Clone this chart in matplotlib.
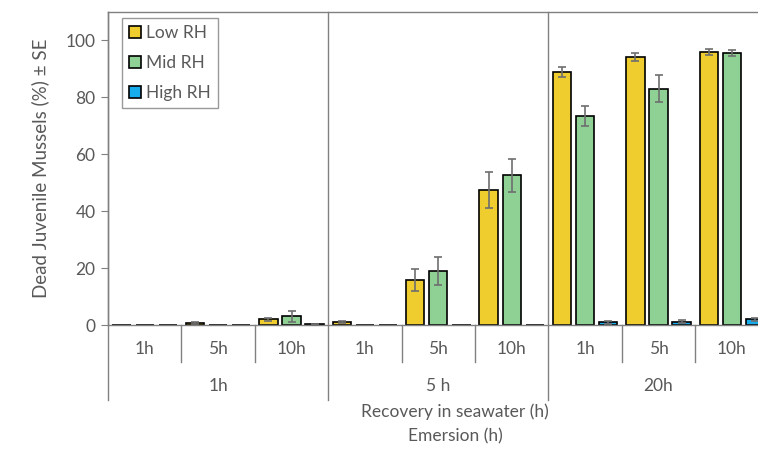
import numpy as np
import matplotlib.pyplot as plt

## data
emersion = ['1h', '5 h', '20h']
recovery = ['1h', '5h', '10h']
series = ['Low RH', 'Mid RH', 'High RH']

low = [0, 0.8, 2.0, 1.0, 15.8, 47.5, 88.8, 94.1, 96.0]
mid = [0, 0, 3.0, 0, 18.9, 52.6, 73.6, 83.0, 95.5]
high = [0, 0, 0.3, 0, 0, 0, 0.95, 1.2, 2.0]
low_se = [0, 0.3, 0.5, 0.4, 4.0, 6.4, 1.7, 1.4, 1.0]
mid_se = [0, 0, 2.0, 0, 5.0, 5.9, 3.5, 4.7, 1.0]
high_se = [0, 0, 0.2, 0, 0, 0, 0.6, 0.6, 0.6]

colors = ['#F0CD2E', '#8FD094', '#17ACEB']
grey = '#595959'
linec = '#808080'

plt.rcParams['font.family'] = ['Lato', 'DejaVu Sans']

fig = plt.figure(figsize=(7.58, 4.49), dpi=100)
ax = fig.add_axes([108/758, 1-325/449, 660.6/758, 313/449])

x = np.arange(len(low))
w = 0.25
off = 0.315
for k, (vals, errs) in enumerate([(low, low_se), (mid, mid_se), (high, high_se)]):
    xs = x + (k-1)*off
    ax.bar(xs, vals, w, color=colors[k], edgecolor='black', linewidth=1.2,
           label=series[k], zorder=2)
    e = np.array(errs)
    m = e > 0
    ax.errorbar(xs[m], np.array(vals)[m], yerr=e[m], fmt='none', ecolor='#6e6e6e',
                elinewidth=1.2, capsize=3, capthick=1.2, zorder=3)

ax.set_xlim(-0.5, 8.5)
ax.set_ylim(0, 110)
ax.set_yticks([0, 20, 40, 60, 80, 100])
ax.set_xticks([])
ax.tick_params(axis='y', direction='out', length=5, color=linec, labelcolor=grey,
               labelsize=12.5, pad=4)
for s in ['left', 'bottom', 'top']:
    ax.spines[s].set_color(linec)
    ax.spines[s].set_linewidth(1)
ax.spines['right'].set_visible(False)
ax.set_ylabel('Dead Juvenile Mussels (%) ± SE', fontsize=13.5, color=grey, labelpad=12)

# category lines below the axis
tr = ax.get_xaxis_transform()
for b in np.arange(-0.5, 9, 1):
    if b in (-0.5, 2.5, 5.5, 8.5):
        ax.plot([b, b], [-0.24, 1], transform=tr, color=linec, lw=1, clip_on=False)
    else:
        ax.plot([b, b], [-0.118, 0], transform=tr, color=linec, lw=1, clip_on=False)

for i in range(9):
    ax.text(i, -0.077, recovery[i % 3], transform=tr, ha='center', va='center',
            fontsize=12.5, color=grey)
for g in range(3):
    ax.text(g*3+1, -0.195, emersion[g], transform=tr, ha='center', va='center',
            fontsize=12.5, color=grey)
ax.text(4.23, -0.278, 'Recovery in seawater (h)', transform=tr, ha='center',
        va='center', fontsize=12.5, color=grey)
ax.text(4.23, -0.355, 'Emersion (h)', transform=tr, ha='center', va='center',
        fontsize=12.5, color=grey)

leg = ax.legend(loc='upper left', bbox_to_anchor=(0.021, 0.981), borderaxespad=0,
                fontsize=12.5, fancybox=False, edgecolor=linec, handlelength=0.7,
                handleheight=0.7, handletextpad=0.3, labelspacing=0.8, borderpad=0.4,
                labelcolor=grey)
leg.get_frame().set_linewidth(1)

fig.savefig('out.png', dpi=100)
